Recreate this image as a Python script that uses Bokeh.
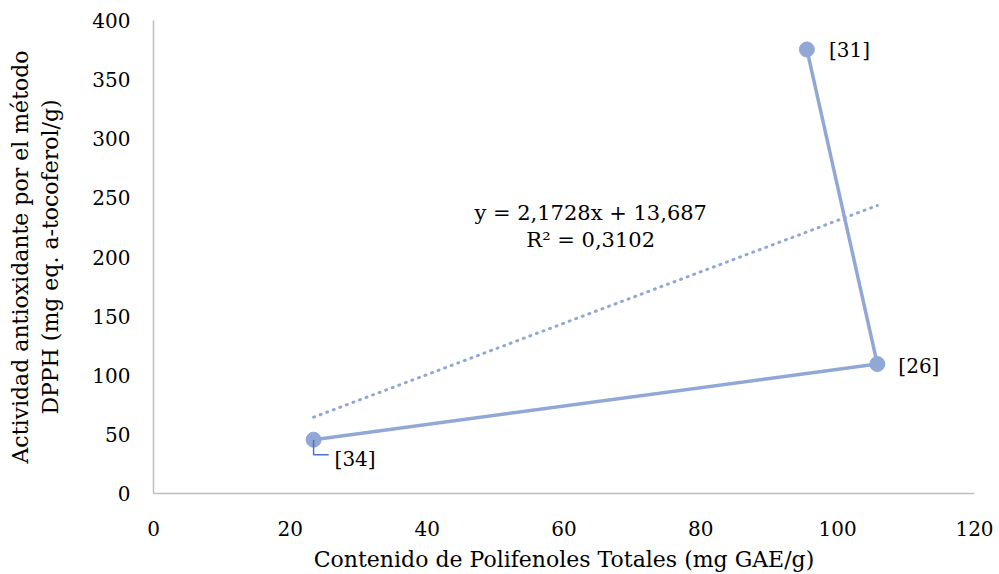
from bokeh.plotting import figure
from bokeh.models import Range1d, Label, ColumnDataSource, FixedTicker
from bokeh.embed import file_html
from bokeh.resources import INLINE

# Data
polifenoles = [23.4, 105.8, 95.5]      # mg GAE/g
dpph = [45.5, 109.5, 375.5]            # mg eq. a-tocoferol/g
refs = ["[34]", "[26]", "[31]"]
slope, intercept = 2.1728, 13.687
eq_lines = ["y = 2,1728x + 13,687", "R\u00b2 = 0,3102"]
x_ticks = [0, 20, 40, 60, 80, 100, 120]
y_ticks = [0, 50, 100, 150, 200, 250, 300, 350, 400]

FONT = "DejaVu Serif"
BLUE = "#91a8d6"
FS = "21px"

p = figure(width=999, height=574, output_backend="svg", toolbar_location=None,
           x_range=Range1d(0, 120), y_range=Range1d(0, 400),
           min_border_left=153, min_border_right=25, min_border_top=20, min_border_bottom=81)
p.outline_line_color = None
p.grid.grid_line_color = None
p.xaxis.ticker = FixedTicker(ticks=x_ticks)
p.yaxis.ticker = FixedTicker(ticks=y_ticks)
for ax in (p.xaxis, p.yaxis):
    ax.axis_line_color = "#bfbfbf"
    ax.axis_line_width = 1.5
    ax.major_tick_line_color = None
    ax.minor_tick_line_color = None
    ax.major_label_text_font = FONT
    ax.major_label_text_font_size = "20px"
    ax.major_label_text_color = "#000000"
    ax.axis_label_text_font = FONT
    ax.axis_label_text_font_size = "22px"
    ax.axis_label_text_font_style = "normal"
    ax.axis_label_text_color = "#000000"
p.xaxis.major_label_standoff = 21
p.yaxis.major_label_standoff = 17
p.xaxis.axis_label = "Contenido de Polifenoles Totales (mg GAE/g)"
p.yaxis.axis_label = "Actividad antioxidante por el método\nDPPH (mg eq. a-tocoferol/g)"
p.xaxis.axis_label_standoff = 8
p.yaxis.axis_label_standoff = 26

# trendline
xs_t = [min(polifenoles), max(polifenoles)]
ys_t = [slope * x + intercept for x in xs_t]
p.line(xs_t, ys_t, line_color=BLUE, line_width=3, line_dash="1 6", line_cap="round")

# series line + markers
src = ColumnDataSource(dict(x=polifenoles, y=dpph, r=refs))
p.line("x", "y", source=src, line_color=BLUE, line_width=3.5)
p.scatter("x", "y", source=src, size=15, fill_color=BLUE, line_color=BLUE)

# leader line for [34]
x0, y0 = polifenoles[0], dpph[0]
p.line([x0, x0, x0 + 2.2], [y0, y0 - 12.7, y0 - 12.7], line_color="#4a74c0", line_width=1.5)

# data labels
offsets = [(21, -19), (21, -2), (22, -1)]
for (x, y, r), (dx, dy) in zip(zip(polifenoles, dpph, refs), offsets):
    p.add_layout(Label(x=x, y=y, text=r, x_offset=dx, y_offset=dy,
                       text_font=FONT, text_font_size="20px",
                       text_baseline="middle", text_align="left", text_color="#000000"))

# equation
eq_x = 63.9
p.add_layout(Label(x=eq_x, y=237.6, text=eq_lines[0], text_font=FONT, text_font_size=FS,
                   text_align="center", text_baseline="middle", text_color="#000000"))
p.add_layout(Label(x=eq_x, y=214, text=eq_lines[1], text_font=FONT, text_font_size=FS,
                   text_align="center", text_baseline="middle", text_color="#000000"))

open("out.html", "w").write(file_html(p, INLINE))
